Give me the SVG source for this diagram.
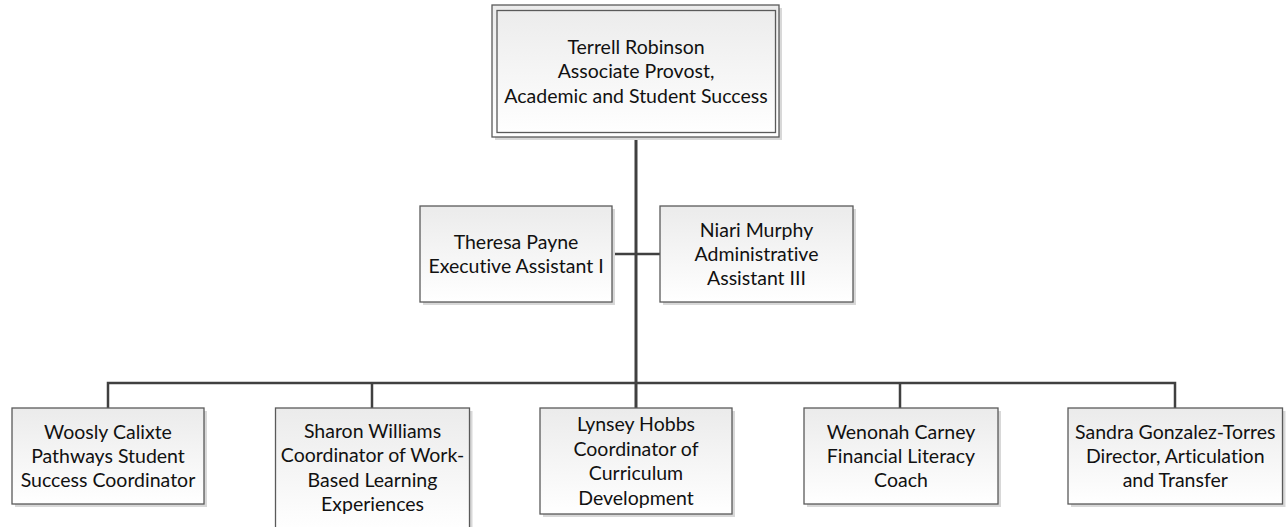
<svg xmlns="http://www.w3.org/2000/svg" width="1287" height="527" viewBox="0 0 1287 527">
<defs>
<linearGradient id="g" x1="0" y1="0" x2="0" y2="1">
<stop offset="0" stop-color="#ebebeb"/>
<stop offset="1" stop-color="#ffffff"/>
</linearGradient>
<style>
.box{fill:url(#g);stroke:#5a5a5a;stroke-width:1.3}
.sh{fill:#d8d8d8}
.t{font-family:Lato,"Liberation Sans",sans-serif;font-size:19.5px;fill:#111111;text-anchor:middle;font-variant-ligatures:none}
.c{stroke:#404040;fill:none}
</style>
</defs>
<rect width="1287" height="527" fill="#ffffff"/>
<g id="connectors">
<path class="c" d="M636 137V408" stroke-width="3"/>
<path class="c" d="M612 254H660" stroke-width="2.5"/>
<path class="c" d="M108 408V383H1175V408M372 383V408M900 383V408" stroke-width="2.5"/>
</g>
<g id="terrell">
<rect class="sh" x="495" y="8" width="287" height="132"/>
<rect class="box" x="492" y="5" width="287" height="132"/>
<rect x="497" y="10.5" width="278.5" height="122" fill="none" stroke="#5a5a5a" stroke-width="1.3"/>
<text class="t" x="636" y="53.5">Terrell Robinson</text>
<text class="t" x="636" y="78">Associate Provost,</text>
<text class="t" x="636" y="102.5">Academic and Student Success</text>
</g>
<g id="theresa">
<rect class="sh" x="423" y="209" width="192" height="96"/>
<rect class="box" x="420" y="206" width="192" height="96"/>
<text class="t" x="516" y="248.8">Theresa Payne</text>
<text class="t" x="516" y="273.2">Executive Assistant I</text>
</g>
<g id="niari">
<rect class="sh" x="663" y="209" width="193" height="96"/>
<rect class="box" x="660" y="206" width="193" height="96"/>
<text class="t" x="756.5" y="236.6">Niari Murphy</text>
<text class="t" x="756.5" y="261">Administrative</text>
<text class="t" x="756.5" y="285.4">Assistant III</text>
</g>
<g id="woosly">
<rect class="sh" x="15" y="411" width="192" height="96"/>
<rect class="box" x="12" y="408" width="192" height="96"/>
<text class="t" x="108" y="438.6">Woosly Calixte</text>
<text class="t" x="108" y="463">Pathways Student</text>
<text class="t" x="108" y="487.4">Success Coordinator</text>
</g>
<g id="sharon">
<rect class="sh" x="278.5" y="411" width="194" height="120"/>
<rect class="box" x="275.5" y="408" width="194" height="124"/>
<text class="t" x="372.5" y="438">Sharon Williams</text>
<text class="t" x="372.5" y="462.4">Coordinator of Work-</text>
<text class="t" x="372.5" y="486.8">Based Learning</text>
<text class="t" x="372.5" y="511.2">Experiences</text>
</g>
<g id="lynsey">
<rect class="sh" x="543" y="411" width="192" height="106"/>
<rect class="box" x="540" y="408" width="192" height="106"/>
<text class="t" x="636" y="431.4">Lynsey Hobbs</text>
<text class="t" x="636" y="455.8">Coordinator of</text>
<text class="t" x="636" y="480.2">Curriculum</text>
<text class="t" x="636" y="504.6">Development</text>
</g>
<g id="wenonah">
<rect class="sh" x="807" y="411" width="194" height="96"/>
<rect class="box" x="804" y="408" width="194" height="96"/>
<text class="t" x="901" y="438.6">Wenonah Carney</text>
<text class="t" x="901" y="463">Financial Literacy</text>
<text class="t" x="901" y="487.4">Coach</text>
</g>
<g id="sandra">
<rect class="sh" x="1071" y="411" width="214.5" height="96"/>
<rect class="box" x="1068" y="408" width="214.5" height="96"/>
<text class="t" x="1175.25" y="438.6">Sandra Gonzalez-Torres</text>
<text class="t" x="1175.25" y="463">Director, Articulation</text>
<text class="t" x="1175.25" y="487.4">and Transfer</text>
</g>
</svg>
